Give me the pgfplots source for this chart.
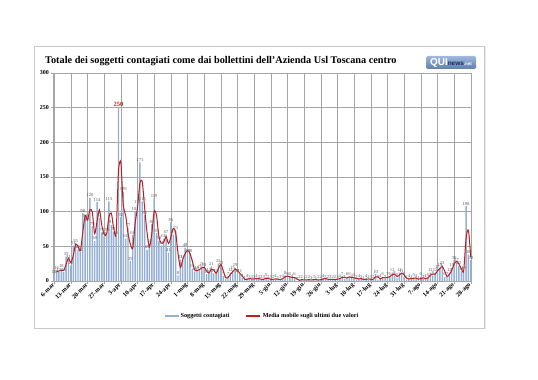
\documentclass[border=0pt]{standalone}
\usepackage{pgfplots}
\pgfplotsset{compat=1.18}
\usepackage{pgfplotstable}
\usepackage{fontspec}
\setmainfont{Liberation Serif}
\setsansfont{Liberation Sans}
\definecolor{barblue}{RGB}{150,176,212}
\definecolor{mared}{RGB}{190,30,30}
\definecolor{gridgray}{RGB}{165,165,165}
\definecolor{framegray}{RGB}{200,200,200}
\definecolor{logoA}{RGB}{160,185,220}
\definecolor{logoB}{RGB}{95,125,175}
\definecolor{navy}{RGB}{25,45,95}

\pgfplotstableread{
x y ma lab
0 10 nan 10
1 16 13 16
2 13 14.5 13
3 18 15.5 18
4 13 15.5 13
5 35 24 35
6 31 33 31
7 22 26.5 22
8 51 36.5 51
9 55 53 55
10 45 50 45
11 42 43.5 42
12 98 70 98
13 91 94.5 91
14 85 88 85
15 120 102.5 120
16 79 99.5 79
17 58 68.5 58
18 114 86 114
19 91 102.5 91
20 70 80.5 70
21 65 67.5 65
22 70 67.5 70
23 115 92.5 115
24 81 98 81
25 71 76 71
26 66 68.5 66
27 250 158 {}
28 92 171 92
29 129 110.5 129
30 61 95 61
31 77 69 77
32 29 53 29
33 66 47.5 66
34 101 83.5 101
35 111 106 111
36 171 141 171
37 115 143 115
38 95 105 95
39 45 70 45
40 54 49.5 54
41 82 68 82
42 119 100.5 119
43 69 94 69
44 58 63.5 58
45 51 54.5 51
46 61 56 61
47 67 64 67
48 41 54 41
49 85 63 85
50 67 76 67
51 73 70 73
52 8 40.5 8
53 31 19.5 31
54 31 31 31
55 48 39.5 48
56 40 44 40
57 40 40 40
58 18 29 18
59 14 16 14
60 16 15 16
61 17 16.5 17
62 21 19 21
63 19 20 19
64 10 14.5 10
65 13 11.5 13
66 21 17 21
67 11 16 11
68 11 11 11
69 25 18 25
70 23 24 23
71 7 15 7
72 3 5 3
73 7 5 7
74 12 9.5 12
75 15 13.5 15
76 19 17 19
77 11 15 11
78 11 11 11
79 4 7.5 4
80 1 2.5 1
81 4 2.5 4
82 3 3.5 3
83 3 3 3
84 3 3 3
85 4 3.5 4
86 3 3.5 3
87 2 2.5 2
88 3 2.5 3
89 5 4 5
90 2 3.5 2
91 3 2.5 3
92 2 2.5 2
93 4 3 4
94 1 2.5 1
95 3 2 3
96 4 3.5 4
97 8 6 8
98 6 7 6
99 6 6 6
100 4 5 4
101 6 5 6
102 0 3 0
103 2 1 2
104 2 2 2
105 1 1.5 1
106 2 1.5 2
107 2 2 2
108 1 1.5 1
109 3 2 3
110 1 2 1
111 2 1.5 2
112 2 2 2
113 4 3 4
114 3 3.5 3
115 2 2.5 2
116 3 2.5 3
117 2 2.5 2
118 2 2 2
119 3 2.5 3
120 4 3.5 4
121 7 5.5 7
122 3 5 3
123 6 4.5 6
124 6 6 6
125 4 5 4
126 5 4.5 5
127 2 3.5 2
128 4 3 4
129 3 3.5 3
130 1 2 1
131 4 2.5 4
132 2 3 2
133 3 2.5 3
134 2 2.5 2
135 10 6 10
136 2 6 2
137 4 3 4
138 6 5 6
139 3 4.5 3
140 7 5 7
141 6 6.5 6
142 12 9 12
143 8 10 8
144 5 6.5 5
145 12 8.5 12
146 11 11.5 11
147 6 8.5 6
148 2 4 2
149 4 3 4
150 3 3.5 3
151 5 4 5
152 4 4.5 4
153 1 2.5 1
154 6 3.5 6
155 3 4.5 3
156 4 3.5 4
157 5 4.5 5
158 12 8.5 12
159 8 10 8
160 12 10 12
161 17 14.5 17
162 19 18 19
163 23 21 23
164 6 14.5 6
165 7 6.5 7
166 12 9.5 12
167 19 15.5 19
168 30 24.5 30
169 27 28.5 27
170 22 24.5 22
171 14 18 14
172 15 14.5 15
173 108 61.5 108
174 38 73 38
175 30 34 30
}\data

\begin{document}
\begin{tikzpicture}
\useasboundingbox (0,0) rectangle (538bp,380bp);
\fill[white] (0,0) rectangle (538bp,380bp);
\fill[black!8] (35.5bp,50.5bp) rectangle (485.5bp,332.5bp);
\draw[framegray, fill=white, line width=0.8bp] (34bp,52bp) rectangle (484bp,334bp);
\node[anchor=base west, font=\bfseries\fontsize{10.3}{11}\selectfont, inner sep=0pt] at (45bp,316bp) {Totale dei soggetti contagiati come dai bollettini dell'Azienda Usl Toscana centro};
\shade[top color=logoA, bottom color=logoB, rounded corners=1.5bp] (426bp,311bp) rectangle (476bp,324bp);
\node[font=\sffamily\bfseries, inner sep=0pt, anchor=center] at (451bp,317.3bp) {\textcolor{white}{\fontsize{10}{10}\selectfont QUI}\textcolor{navy}{\fontsize{6.5}{6.5}\selectfont news}\textcolor{white}{\fontsize{4.5}{4.5}\selectfont .net}};
\begin{axis}[
  at={(53bp,99bp)}, anchor=south west,
  scale only axis, width=419bp, height=208bp,
  xmin=-0.5, xmax=175.5, ymin=0, ymax=300,
  xtick={0,7,...,175},
  xticklabels={6-mar,13-mar,20-mar,27-mar,3-apr,10-apr,17-apr,24-apr,1-mag,8-mag,15-mag,22-mag,29-mag,5-giu,12-giu,19-giu,26-giu,3-lug,10-lug,17-lug,24-lug,31-lug,7-ago,14-ago,21-ago,28-ago},
  ytick={0,50,...,300},
  /pgf/number format/assume math mode=true,
  xticklabel style={rotate=45, anchor=east, font=\bfseries\fontsize{6.3}{6.3}\selectfont, inner sep=1bp},
  yticklabel style={font=\bfseries\fontsize{6}{6}\selectfont, inner sep=1.5bp},
  grid=major,
  major grid style={gridgray, line width=0.45bp},
  axis lines=left,
  axis line style={-, gridgray, line width=0.6bp},
  tick style={gridgray, line width=0.5bp},
  tick align=outside,
  major tick length=2.5bp,
  legend style={at={(0.5,-0.168)}, anchor=center, legend columns=2, draw=none, fill=none,
    font=\bfseries\fontsize{6.2}{7}\selectfont,
    /tikz/every even column/.append style={column sep=14bp}},
]
\addplot[ybar, bar width=0.6, fill=barblue, draw=none,
  nodes near coords, point meta=explicit symbolic,
  nodes near coords style={font=\fontsize{4.6}{4.6}\selectfont, text=black!65, inner sep=0.6bp},
  legend image code/.code={\fill[barblue] (0bp,-1.2bp) rectangle (14bp,1.2bp);}]
  table[x=x, y=y, meta=lab] {\data};
\addlegendentry{Soggetti contagiati}
\addplot[mared, line width=1bp, smooth, tension=0.45, mark=none,
  legend image code/.code={\draw[mared, line width=1.2bp] (0bp,0bp) -- (14bp,0bp);}]
  table[x=x, y=ma] {\data};
\addlegendentry{Media mobile sugli ultimi due valori}
\addplot[only marks, mark=none, forget plot, nodes near coords, point meta=explicit symbolic,
  nodes near coords style={text=mared, font=\bfseries\fontsize{6.5}{6.5}\selectfont, anchor=south, inner sep=1bp}]
  coordinates {(27,250) [250]};
\end{axis}
\end{tikzpicture}
\end{document}
